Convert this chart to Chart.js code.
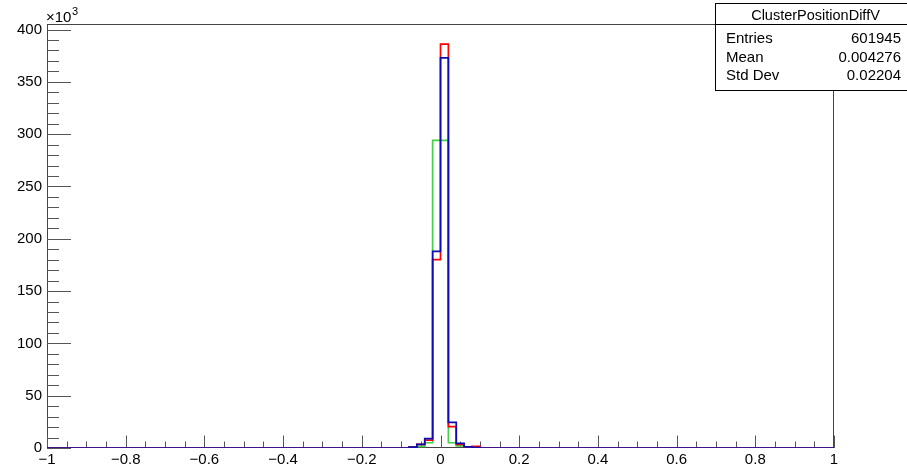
<!DOCTYPE html>
<html>
<head>
<meta charset="utf-8">
<script src="https://cdn.jsdelivr.net/npm/chart.js@4/dist/chart.umd.min.js"></script>
<style>
  html, body { margin: 0; padding: 0; background: #fff; }
  canvas { display: block; }
</style>
</head>
<body>
<canvas id="c" width="907" height="466"></canvas>
<script>
// Histogram bin edges (x) — everything outside [-0.08, 0.1] is empty
const binEdges = [-1, -0.08, -0.06, -0.04, -0.02, 0, 0.02, 0.04, 0.06, 0.08, 0.1, 1];
// Counts per interval, in units of 10^3
const greenCounts = [0, 0.4, 1.5, 5, 294, 294, 5, 2, 0.5, 0.3, 0];
const redCounts   = [0, 0.8, 3.5, 7.5, 180, 386, 20.5, 3.5, 1, 1.5, 0];
const blueCounts  = [0, 0.8, 3.5, 9, 188, 373, 24.5, 4.5, 1, 0.5, 0];

// Axis tick labels
const xTickLabels = ['\u22121', '\u22120.8', '\u22120.6', '\u22120.4', '\u22120.2', '0', '0.2', '0.4', '0.6', '0.8', '1'];
const yTickLabels = ['0', '50', '100', '150', '200', '250', '300', '350', '400'];

// Statistics box
const statsTitle = 'ClusterPositionDiffV';
const statsNames = ['Entries', 'Mean', 'Std Dev'];
const statsValues = ['601945', '0.004276', '0.02204'];

const FONT = '"Liberation Sans", Arial, Helvetica, sans-serif';

// Each count is held from its lower edge to the next edge
function stepPoints(counts) {
  const pts = counts.map((v, i) => ({ x: binEdges[i], y: v }));
  pts.push({ x: binEdges[binEdges.length - 1], y: counts[counts.length - 1] });
  return pts;
}

const yMax = 1.05 * Math.max(...greenCounts, ...redCounts, ...blueCounts);

function histDataset(counts, color) {
  return {
    data: stepPoints(counts),
    stepped: 'before',
    borderColor: color,
    borderWidth: 1.7,
    pointRadius: 0,
    fill: false,
    tension: 0
  };
}

// Frame and tick marks, drawn underneath the histograms; stats box on top
const framePlugin = {
  id: 'frame',
  beforeDatasetsDraw(chart) {
    const { ctx, chartArea: { left, right, top, bottom }, scales: { x, y } } = chart;
    ctx.save();
    ctx.strokeStyle = '#444';
    ctx.lineWidth = 1;
    ctx.strokeRect(left + 0.5, top + 0.5, right - left - 1, bottom - top - 1);
    ctx.strokeStyle = '#555';
    ctx.beginPath();
    x.ticks.forEach(t => {
      const px = Math.round(x.getPixelForValue(t.value)) + 0.5;
      const len = t.label !== '' ? 12.5 : 6.5;
      ctx.moveTo(px, bottom);
      ctx.lineTo(px, bottom - len);
    });
    y.ticks.forEach(t => {
      if (Math.abs(t.value / 10 - Math.round(t.value / 10)) > 1e-6) return;
      const py = Math.round(y.getPixelForValue(t.value)) + 0.5;
      const len = t.label !== '' ? 24 : 12;
      ctx.moveTo(left, py);
      ctx.lineTo(left + len, py);
    });
    ctx.stroke();
    ctx.restore();
  },
  afterDraw(chart) {
    const { ctx, chartArea: { left } } = chart;
    ctx.save();
    ctx.fillStyle = '#000';
    ctx.textBaseline = 'alphabetic';
    // axis multiplier
    ctx.font = '15px ' + FONT;
    ctx.textAlign = 'left';
    ctx.fillText('\u00d710', left - 1, 22);
    const w = ctx.measureText('\u00d710').width;
    ctx.font = '11px ' + FONT;
    ctx.fillText('3', left - 1 + w + 0.5, 15);

    // statistics box
    const bx = 715.5, by = 3.5, bw = 200, bh = 87;
    ctx.fillStyle = '#fff';
    ctx.fillRect(bx, by, bw, bh);
    ctx.strokeStyle = '#000';
    ctx.lineWidth = 1;
    ctx.strokeRect(bx, by, bw, bh);
    ctx.beginPath();
    ctx.moveTo(bx, 24.5);
    ctx.lineTo(bx + bw, 24.5);
    ctx.stroke();
    ctx.fillStyle = '#000';
    ctx.font = '14.5px ' + FONT;
    ctx.textAlign = 'center';
    ctx.fillText(statsTitle, 815.5, 20);
    ctx.font = '15px ' + FONT;
    statsNames.forEach((n, i) => {
      const base = 43.3 + i * 18.3;
      ctx.textAlign = 'left';
      ctx.fillText(n, 726, base);
      ctx.textAlign = 'right';
      ctx.fillText(statsValues[i], 901, base);
    });
    ctx.restore();
  }
};

new Chart(document.getElementById('c'), {
  type: 'line',
  data: {
    // first dataset is painted on top
    datasets: [
      histDataset(blueCounts, '#0c0cb0'),
      histDataset(redCounts, '#ff0000'),
      histDataset(greenCounts, '#45cf45')
    ]
  },
  options: {
    responsive: false,
    animation: false,
    events: [],
    layout: { padding: { left: 0, right: 73, top: 24, bottom: 0 } },
    plugins: { legend: { display: false }, tooltip: { enabled: false }, title: { display: false } },
    scales: {
      x: {
        type: 'linear',
        min: -1,
        max: 1,
        afterFit(s) { s.height = 18; },
        grid: { display: false, drawTicks: false },
        border: { display: false },
        ticks: {
          stepSize: 0.05,
          autoSkip: false,
          includeBounds: false,
          maxRotation: 0,
          padding: 3,
          color: '#000',
          font: { family: FONT, size: 15 },
          callback(v) {
            const k = Math.round((v + 1) / 0.2);
            return Math.abs(v - (-1 + k * 0.2)) < 1e-6 ? xTickLabels[k] : '';
          }
        }
      },
      y: {
        type: 'linear',
        min: 0,
        max: yMax,
        afterFit(s) { s.width = 47; },
        grid: { display: false, drawTicks: false },
        border: { display: false },
        ticks: {
          stepSize: 10,
          autoSkip: false,
          includeBounds: false,
          padding: 5,
          color: '#000',
          font: { family: FONT, size: 15 },
          callback(v) {
            const k = Math.round(v / 50);
            return Math.abs(v - k * 50) < 1e-6 ? yTickLabels[k] : '';
          }
        }
      }
    }
  },
  plugins: [framePlugin]
});
</script>
</body>
</html>
